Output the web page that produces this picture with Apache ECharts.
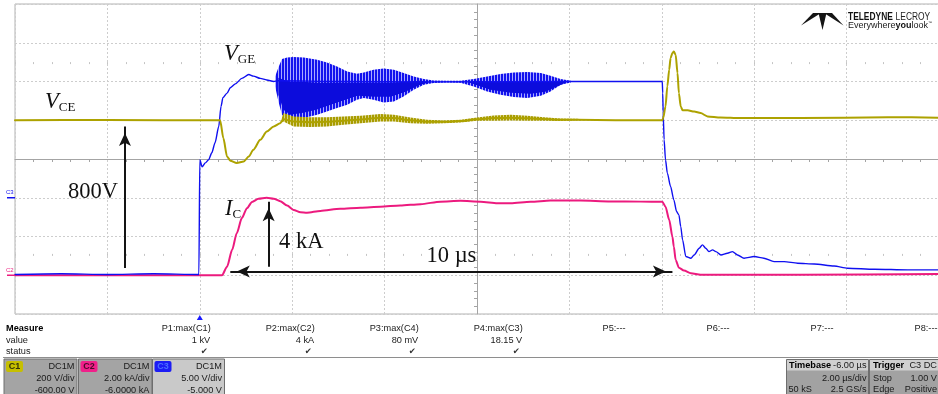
<!DOCTYPE html>
<html>
<head>
<meta charset="utf-8">
<script src="https://cdn.jsdelivr.net/npm/echarts@6/dist/echarts.min.js"></script>
<style>
  html, body { margin: 0; padding: 0; background: #fff; }
  #scope { width: 938px; height: 394px; }
</style>
</head>
<body>
<div id="scope"></div>
<script>
// ---- Waveforms: time in µs from the trigger (gate turn-on at t = 0) ----
// C1: collector-emitter voltage, V
const vceTrace = [
  [-4.0, 800], [-2.0, 801], [0.44, 800], [0.51, 708], [0.59, 613], [0.66, 591],
  [0.80, 579], [0.95, 587], [1.06, 613], [1.16, 648], [1.31, 699], [1.45, 742],
  [1.60, 768], [1.74, 785], [1.81, 805], [2.03, 794], [2.39, 790], [2.75, 792],
  [3.11, 798], [3.48, 804], [3.91, 813], [4.20, 811], [4.56, 800], [4.92, 792],
  [5.28, 792], [5.64, 796], [6.00, 805], [6.36, 811], [6.73, 813], [7.09, 810],
  [7.45, 806], [7.81, 802], [8.17, 802], [9.00, 800], [10.01, 800], [10.03, 811],
  [10.08, 871], [10.12, 975], [10.16, 1061], [10.19, 1121], [10.23, 1147], [10.26, 1155],
  [10.30, 1138], [10.34, 1044], [10.37, 940], [10.41, 871], [10.45, 851], [10.56, 851],
  [10.70, 845], [10.84, 837], [10.99, 820], [11.27, 814], [11.70, 811], [13.00, 811],
  [14.90, 816], [16.00, 813]
];
// C1 ripple band during the short circuit: [t, low, high]
const vceRipple = [
  [1.74, 785, 785], [1.81, 794, 837], [2.03, 768, 820], [2.39, 765, 816], [2.75, 768, 816],
  [3.11, 777, 820], [3.48, 785, 823], [3.91, 794, 832], [4.20, 794, 828], [4.56, 785, 814],
  [4.92, 782, 803], [5.28, 785, 799], [5.64, 789, 803], [6.00, 797, 814], [6.36, 797, 825],
  [6.73, 799, 828], [7.09, 797, 823], [7.45, 797, 816], [7.81, 796, 809], [8.17, 799, 808],
  [8.40, 801, 801]
];
// C2: collector current, kA
const icTrace = [
  [-4.0, 0.0], [0.48, 0.0], [0.59, 0.44], [0.70, 1.31], [0.80, 2.17], [0.91, 2.95],
  [1.02, 3.46], [1.13, 3.78], [1.27, 3.95], [1.45, 4.0], [1.60, 3.95], [1.74, 3.82],
  [1.89, 3.60], [2.03, 3.37], [2.18, 3.25], [2.32, 3.23], [2.61, 3.32], [3.04, 3.43],
  [3.48, 3.49], [3.91, 3.54], [4.34, 3.60], [4.78, 3.67], [5.21, 3.80], [5.64, 3.84],
  [6.08, 3.80], [6.44, 3.72], [6.73, 3.71], [7.16, 3.79], [7.59, 3.86], [8.24, 3.86],
  [8.89, 3.81], [9.54, 3.80], [10.01, 3.80], [10.08, 3.54], [10.16, 2.86], [10.23, 1.99],
  [10.26, 1.48], [10.30, 0.79], [10.37, 0.39], [10.48, 0.24], [10.63, 0.10], [10.84, 0.02],
  [13.00, 0.03], [16.00, 0.06]
];
// C3: gate-emitter voltage, V
const vgeTrace = [
  [-4.0, -9.9], [-3.0, -9.8], [-2.0, -9.9], [-1.0, -9.8], [-0.02, -9.9], [0.0, 4.9],
  [0.05, 4.0], [0.12, 4.5], [0.19, 4.9], [0.26, 5.8], [0.33, 7.1], [0.41, 9.2],
  [0.46, 11.8], [0.50, 12.9], [0.59, 13.5], [0.66, 14.2], [0.77, 14.7], [0.91, 15.4],
  [1.06, 15.9], [1.16, 15.7], [1.31, 15.4], [1.45, 15.2], [1.60, 15.0], [1.68, 15.1],
  [3.00, 15.0], [5.00, 14.95], [8.03, 15.0], [10.01, 15.0],
  [10.02, 13.51], [10.03, 10.93], [10.05, 7.48], [10.08, 4.90], [10.12, 3.18], [10.19, 1.45],
  [10.26, -0.27], [10.32, -1.78], [10.37, -2.21], [10.41, -3.72], [10.45, -5.44], [10.52, -7.59],
  [10.63, -7.80], [10.70, -7.38], [10.81, -6.51], [10.88, -6.08], [10.95, -6.51], [11.02, -6.95],
  [11.10, -6.73], [11.17, -6.95], [11.28, -7.38], [11.42, -7.16], [11.53, -6.95], [11.64, -7.38],
  [11.78, -7.80], [12.00, -7.59], [12.21, -7.80], [12.43, -8.24], [12.65, -8.24], [12.94, -8.45],
  [13.30, -8.54], [13.73, -8.80], [14.02, -9.09], [14.60, -9.22], [15.32, -9.31], [16.00, -9.31]
];
// C3 gate oscillation envelope: [t, low, high]
const vgeRingOuter = [
  [1.63, 14.37, 15.66], [1.71, 12.22, 16.95], [1.78, 10.71, 17.90], [1.89, 10.06, 18.11],
  [2.03, 10.06, 18.15], [2.25, 10.28, 18.11], [2.54, 10.71, 17.81], [2.75, 11.13, 17.46],
  [2.97, 11.57, 16.95], [3.19, 12.00, 16.30], [3.40, 12.65, 16.00], [3.55, 12.86, 16.17],
  [3.76, 12.65, 16.52], [3.98, 12.30, 16.69], [4.20, 12.43, 16.52], [4.41, 13.07, 16.09],
  [4.63, 13.94, 15.65], [4.85, 14.58, 15.32], [5.06, 14.80, 15.14], [5.35, 14.88, 15.10],
  [5.64, 14.84, 15.10], [5.93, 14.36, 15.32], [6.22, 13.72, 15.65], [6.51, 13.29, 15.96],
  [6.80, 13.00, 16.17], [7.09, 12.86, 16.22], [7.38, 13.16, 16.09], [7.59, 13.72, 15.75],
  [7.81, 14.58, 15.32], [8.03, 14.88, 15.10]
];
// dense core of the gate oscillation: [t, low, high]
const vgeRingCore = [
  [1.70, 13.29, 15.49], [1.81, 11.35, 15.23], [1.96, 10.71, 14.97], [2.24, 10.97, 14.97],
  [2.52, 11.35, 14.84], [2.83, 12.00, 14.84], [3.15, 12.65, 14.84], [3.41, 13.16, 14.84],
  [3.80, 13.03, 14.84], [4.13, 13.03, 14.84], [4.45, 13.67, 14.97], [4.77, 14.58, 15.10],
  [5.00, 14.95, 14.95], [5.80, 14.95, 14.95], [5.97, 14.58, 15.10], [6.29, 13.94, 14.97],
  [6.73, 13.55, 14.97], [7.16, 13.42, 14.97], [7.48, 13.67, 14.97], [7.82, 14.58, 15.10],
  [7.95, 14.95, 14.95]
];

// ---- Annotation arrows (time µs, channel units) ----
const arrowVce = [[-1.62, 38], [-1.62, 768]];      // "800V"
const arrowIc = [[1.49, 0.44], [1.49, 3.80]];      // "4 kA"
const arrowPulse = [[0.66, 0.19], [10.23, 0.19]];  // "10 µs"

// ---- Measurement panel and channel descriptors ----
const measureNames = ['P1:max(C1)', 'P2:max(C2)', 'P3:max(C4)', 'P4:max(C3)', 'P5:---', 'P6:---', 'P7:---', 'P8:---'];
const measureValues = ['1 kV', '4 kA', '80 mV', '18.15 V'];
const channelTags = ['C1', 'C2', 'C3'];
const channelCoupling = ['DC1M', 'DC1M', 'DC1M'];
const channelScale = ['200 V/div', '2.00 kA/div', '5.00 V/div'];
const channelOffset = ['-600.00 V', '-6.0000 kA', '-5.000 V'];
const timebaseText = ['Timebase', '-6.00 µs', '2.00 µs/div', '50 kS', '2.5 GS/s'];
const triggerText = ['Trigger', 'C3 DC', 'Stop', '1.00 V', 'Edge', 'Positive'];

const COL = { c1: '#ada200', c2: '#ec1a7e', c3: '#1010f0' };
const GRID = { left: 15, top: 4, width: 924, height: 310 };
const SANS = '"Liberation Sans", Arial, sans-serif';
const SERIF = '"Liberation Serif", "Times New Roman", serif';

// vertical-stripe fill used for the dense ringing traces
function stripes(dark, light, period, darkW) {
  const c = document.createElement('canvas');
  c.width = period; c.height = 4;
  const g = c.getContext('2d');
  g.fillStyle = light; g.fillRect(0, 0, period, 4);
  g.fillStyle = dark; g.fillRect(0, 0, darkW, 4);
  return { image: c, repeat: 'repeat' };
}

// filled envelope between low/high columns of [t, low, high] rows
function bandSeries(rows, yAxisIndex, fill, z) {
  return {
    type: 'custom', xAxisIndex: 1, yAxisIndex, data: rows, encode: { x: 0, y: [1, 2] },
    z, silent: true, animation: false,
    renderItem(params, api) {
      if (params.dataIndex !== 0) return null;
      const upper = rows.map(r => api.coord([r[0], r[2]]));
      const lower = rows.slice().reverse().map(r => api.coord([r[0], r[1]]));
      return { type: 'polygon', shape: { points: upper.concat(lower) }, style: { fill, stroke: null } };
    }
  };
}

function traceSeries(data, yAxisIndex, color, width, z) {
  return {
    type: 'line', xAxisIndex: 1, yAxisIndex, data, z, symbol: 'none', showSymbol: false,
    silent: true, animation: false, smooth: 0.25, smoothMonotone: 'x',
    lineStyle: { color, width, cap: 'round', join: 'round' }
  };
}

function arrowSeries(pair, yAxisIndex, both) {
  return {
    type: 'line', xAxisIndex: 1, yAxisIndex, data: [], z: 6, silent: true, animation: false,
    markLine: {
      silent: true, animation: false,
      symbol: [both ? 'arrow' : 'none', 'arrow'],
      symbolSize: [9, 13],
      symbolOffset: [[0, '50%'], [0, '50%']],
      label: { show: false },
      emphasis: { disabled: true },
      lineStyle: { color: '#141414', width: 2, type: 'solid' },
      data: [[{ coord: pair[0] }, { coord: pair[1] }]]
    }
  };
}

const divLine = { color: '#cdcdcd', type: [2, 2], width: 1 };
const crossLine = { color: '#a4a4a4', width: 1 };

const chart = echarts.init(document.getElementById('scope'), null, { renderer: 'canvas' });

chart.setOption({
  backgroundColor: '#ffffff',
  animation: false,
  grid: Object.assign({ show: true, borderColor: '#b2b2b2', borderWidth: 1, outerBoundsMode: 'none' }, GRID),
  xAxis: [
    { // 10 horizontal divisions, centre line with 0.2-div marks
      type: 'value', min: -5, max: 5, interval: 1,
      axisLine: { show: true, onZero: true, onZeroAxisIndex: 0, lineStyle: crossLine },
      axisTick: { show: false }, axisLabel: { show: false },
      minorTick: { show: true, splitNumber: 5, length: 3, lineStyle: crossLine },
      splitLine: { show: true, lineStyle: divLine }
    },
    { type: 'value', min: -4, max: 16, show: false, axisLine: { onZero: false } },
    { // sub-division marks, upper row
      type: 'value', min: -5, max: 5, interval: 0.2, position: 'top', offset: -58.1,
      axisLine: { show: false, onZero: false }, axisLabel: { show: false }, splitLine: { show: false },
      axisTick: { show: true, inside: true, length: 2, lineStyle: { color: '#c4c4c4' } }
    },
    { // sub-division marks, lower row
      type: 'value', min: -5, max: 5, interval: 0.2, position: 'bottom', offset: -58.1,
      axisLine: { show: false, onZero: false }, axisLabel: { show: false }, splitLine: { show: false },
      axisTick: { show: true, inside: true, length: 2, lineStyle: { color: '#c4c4c4' } }
    }
  ],
  yAxis: [
    { // 8 vertical divisions
      type: 'value', min: -4, max: 4, interval: 1,
      axisLine: { show: true, onZero: true, onZeroAxisIndex: 0, lineStyle: crossLine },
      axisTick: { show: false }, axisLabel: { show: false },
      minorTick: { show: true, splitNumber: 5, length: 3, lineStyle: crossLine },
      splitLine: { show: true, lineStyle: divLine }
    },
    { type: 'value', min: -200, max: 1400, show: false },  // C1 200 V/div
    { type: 'value', min: -2, max: 14, show: false },      // C2 2 kA/div
    { type: 'value', min: -15, max: 25, show: false }      // C3 5 V/div
  ],
  series: [
    traceSeries(icTrace, 2, COL.c2, 2, 2),
    bandSeries(vgeRingOuter, 3, stripes('#1212ee', '#a9a9ff', 3, 2), 3),
    bandSeries(vgeRingCore, 3, '#0c0cdc', 3),
    traceSeries(vgeTrace, 3, COL.c3, 1.4, 3),
    bandSeries(vceRipple, 1, stripes('#a89c00', '#d8d184', 3, 2), 4),
    traceSeries(vceTrace, 1, COL.c1, 2, 4),
    arrowSeries(arrowVce, 1, false),
    arrowSeries(arrowIc, 2, false),
    arrowSeries(arrowPulse, 2, true)
  ]
});

// ---- Panel graphics (placed after layout so markers follow the axes) ----
const trigX = chart.convertToPixel({ xAxisIndex: 1 }, 0);
const zeroC2 = chart.convertToPixel({ yAxisIndex: 2 }, 0);
const zeroC3 = chart.convertToPixel({ yAxisIndex: 3 }, 0);
const gridBottom = GRID.top + GRID.height;

function T(x, y, text, o = {}) {
  return {
    type: 'text', x, y, z: 50, silent: true,
    style: Object.assign({
      text, fill: o.fill || '#1a1a1a',
      font: (o.bold ? 'bold ' : '') + (o.size || 9.2) + 'px ' + (o.family || SANS),
      align: o.align || 'left', verticalAlign: 'middle'
    }, o.style || {})
  };
}
function R(x, y, w, h, fill, stroke, r) {
  return { type: 'rect', z: 40, silent: true, shape: { x, y, width: w, height: h, r: r || 0 },
    style: { fill, stroke: stroke || null, lineWidth: 1 } };
}
function richLabel(x, y, main, sub, italic) {
  return {
    type: 'text', x, y, z: 50, silent: true,
    style: {
      text: '{m|' + main + '}{s|' + sub + '}', verticalAlign: 'top', align: 'left',
      rich: {
        m: { fontFamily: SERIF, fontStyle: italic ? 'italic' : 'normal', fontSize: 22.5, lineHeight: 24, fill: '#111', verticalAlign: 'bottom' },
        s: { fontFamily: SERIF, fontSize: 13, lineHeight: 13, fill: '#111', verticalAlign: 'bottom' }
      }
    }
  };
}

const g = [];
// trace labels
g.push(richLabel(45, 90, 'V', 'CE', true));
g.push(richLabel(224, 42, 'V', 'GE', true));
g.push(richLabel(225, 197, 'I', 'C', true));
g.push(T(68, 192.5, '800V', { size: 22.5, family: SERIF, fill: '#111' }));
g.push(T(279, 242.5, '4 kA', { size: 22.5, family: SERIF, fill: '#111' }));
g.push(T(426.5, 256.5, '10 µs', { size: 22.5, family: SERIF, fill: '#111' }));

// channel ground markers on the left edge
g.push(T(6, zeroC3 - 5, 'C3', { size: 6, fill: COL.c3 }));
g.push({ type: 'line', z: 50, silent: true, shape: { x1: 7, y1: zeroC3, x2: 15, y2: zeroC3 }, style: { stroke: COL.c3, lineWidth: 1.5 } });
g.push(T(6, zeroC2 - 5, 'C2', { size: 6, fill: COL.c2 }));
g.push({ type: 'line', z: 50, silent: true, shape: { x1: 7, y1: zeroC2, x2: 15, y2: zeroC2 }, style: { stroke: COL.c2, lineWidth: 1.5 } });

// trigger position marker
g.push({ type: 'polygon', z: 50, silent: true,
  shape: { points: [[trigX, gridBottom + 1], [trigX - 3, gridBottom + 6], [trigX + 3, gridBottom + 6]] },
  style: { fill: '#1a1aff' } });

// measurement table
g.push(T(6, 328.5, 'Measure', { bold: true, fill: '#000' }));
g.push(T(6, 340, 'value'));
g.push(T(6, 351.5, 'status'));
measureNames.forEach((name, i) => {
  const right = i < 4 ? 210.7 + 104 * i : 625.5 + 104 * (i - 4);
  g.push(T(right, 328.5, name, { align: 'right' }));
  if (i < measureValues.length) {
    g.push(T(right - 0.5, 340, measureValues[i], { align: 'right' }));
    g.push(T(right - 6.5, 351.5, '\u2714', { align: 'center', size: 8.5, family: '"DejaVu Sans", sans-serif', fill: '#333' }));
  }
});
g.push({ type: 'line', z: 45, silent: true, shape: { x1: 3, y1: 357.5, x2: 938, y2: 357.5 }, style: { stroke: '#8e8e8e', lineWidth: 1.2 } });

// channel descriptor boxes
const boxX = [4, 78.5, 152.5];
const boxW = [73, 73.5, 72];
const boxFill = ['#a4a4a4', '#a4a4a4', '#c9c9c9'];
const tagFill = ['#c6bf00', '#f0208a', '#1c1cf4'];
const tagInk = ['#34340a', '#4a0a28', '#4b6dff'];
channelTags.forEach((tag, i) => {
  const x = boxX[i], w = boxW[i];
  g.push(R(x, 359, w, 36, boxFill[i], '#6e6e6e'));
  g.push(R(x + 2, 361, 17, 11, tagFill[i], null, 2));
  g.push(T(x + 10.5, 366.5, tag, { align: 'center', bold: true, size: 9, fill: tagInk[i] }));
  g.push(T(x + w - 2.5, 366, channelCoupling[i], { align: 'right' }));
  g.push(T(x + w - 2.5, 378.5, channelScale[i], { align: 'right' }));
  g.push(T(x + w - 2.5, 390, channelOffset[i], { align: 'right' }));
});

// timebase and trigger boxes
g.push(R(786.5, 359.5, 82, 36, '#a2a2a2', '#6e6e6e'));
g.push(R(787, 360, 81, 10.5, '#d0d0d0'));
g.push(T(789, 365.2, timebaseText[0], { bold: true, fill: '#000' }));
g.push(T(866.5, 365.2, timebaseText[1], { align: 'right' }));
g.push(T(866.5, 378.3, timebaseText[2], { align: 'right' }));
g.push(T(788.5, 389.7, timebaseText[3]));
g.push(T(866.5, 389.7, timebaseText[4], { align: 'right' }));
g.push(R(869.5, 359.5, 72, 36, '#a2a2a2', '#6e6e6e'));
g.push(R(870, 360, 71, 10.5, '#d0d0d0'));
g.push(T(873, 365.2, triggerText[0], { bold: true, fill: '#000' }));
g.push(T(937, 365.2, triggerText[1], { align: 'right' }));
g.push(T(873, 378.3, triggerText[2]));
g.push(T(937, 378.3, triggerText[3], { align: 'right' }));
g.push(T(873, 389.7, triggerText[4]));
g.push(T(937, 389.7, triggerText[5], { align: 'right' }));

// maker logo, top right: three blades fanning down from a common top edge
const logoInk = '#151515';
[
  [[813, 13], [821, 13], [801, 25.5]],
  [[818.5, 13], [826.5, 13], [822.5, 30]],
  [[824, 13], [832, 13], [843.5, 25.5]]
].forEach(pts => g.push({ type: 'polygon', z: 50, silent: true, shape: { points: pts }, style: { fill: logoInk } }));
g.push({ type: 'text', x: 848, y: 17, z: 50, silent: true, scaleX: 0.84,
  style: { text: '{b|TELEDYNE} {r|LECROY}', verticalAlign: 'middle',
    rich: { b: { fontFamily: SANS, fontWeight: 'bold', fontSize: 10, fill: '#111' }, r: { fontFamily: SANS, fontSize: 10, fill: '#222' } } } });
g.push({ type: 'text', x: 848, y: 25.5, z: 50, silent: true,
  style: { text: '{n|Everywhere}{b|you}{n|look}{t|\u2122}', verticalAlign: 'middle',
    rich: { n: { fontFamily: SANS, fontSize: 9, fill: '#222' }, b: { fontFamily: SANS, fontWeight: 'bold', fontSize: 9, fill: '#111' }, t: { fontFamily: SANS, fontSize: 4, fill: '#222', verticalAlign: 'top' } } } });

chart.setOption({ graphic: { elements: g } });
</script>
</body>
</html>
